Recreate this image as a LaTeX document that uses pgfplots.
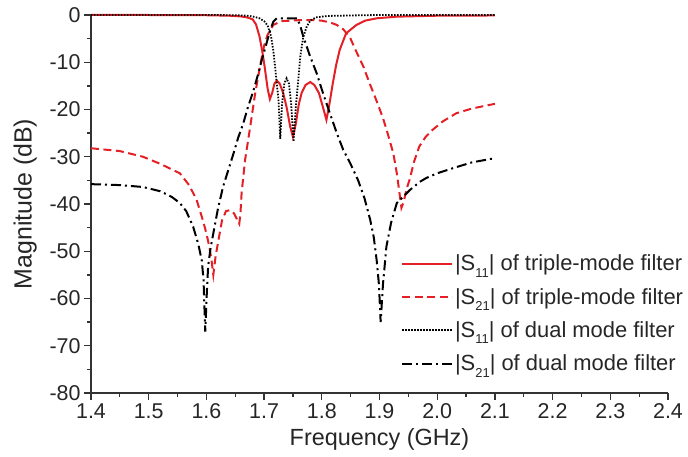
\documentclass[border=0pt]{standalone}
\usepackage{fontspec}
\setmainfont{Liberation Sans}
\usepackage{pgfplots}
\pgfplotsset{compat=1.18}
\definecolor{sred}{RGB}{228,32,38}
\newcommand\sub[1]{\raisebox{-0.55ex}{\fontsize{13}{13}\selectfont #1}}
\begin{document}
\begin{tikzpicture}
\begin{axis}[
    width=577bp, height=378bp, scale only axis,
    xmin=1.4, xmax=2.4, ymin=-80, ymax=0,
    axis x line*=bottom, axis y line*=left,
    axis line style={black!80, line width=1.4bp},
    xtick={1.4,1.5,...,2.41}, ytick={-80,-70,...,0},
    minor x tick num=1, minor y tick num=1,
    tick align=outside, tick style={black!80, line width=1.3bp},
    major tick length=7bp, minor tick length=4bp,
    /pgf/number format/assume math mode=true,
    xticklabel style={/pgf/number format/.cd, fixed, fixed zerofill, precision=1},
    tick label style={font=\fontsize{21.5}{24}\selectfont, text=black!85},
    xlabel={Frequency (GHz)}, ylabel={Magnitude (dB)},
    xlabel style={font=\fontsize{23.5}{26}\selectfont, text=black!85, yshift=-3bp},
    ylabel style={font=\fontsize{25}{28}\selectfont, text=black!85, yshift=6bp},
    clip=false,
    legend cell align=left,
    legend image code/.code={\draw[#1] (0bp,0bp) -- (50bp,0bp);},
    legend style={draw=none, fill=none, inner sep=0pt, row sep=12bp,
        font=\fontsize{22}{24}\selectfont, text=black!85,
        at={(axis cs:1.937,-50.3)}, anchor=north west},
]
\coordinate (bl) at (rel axis cs:0,0);
\coordinate (tr) at (rel axis cs:1,1);
% |S11| triple-mode
\addplot[sred, line width=2bp] coordinates {
(1.40,0) (1.50,0) (1.60,-0.05) (1.64,-0.15) (1.66,-0.3) (1.67,-0.5) (1.68,-0.9)
(1.686,-2) (1.692,-4.5) (1.697,-7.8) (1.701,-11) (1.706,-15.5) (1.710,-17.8)
(1.714,-16.5) (1.718,-14.5) (1.722,-13.9) (1.727,-14.5) (1.733,-16.5) (1.739,-19.5)
(1.745,-23.5) (1.750,-25.8) (1.755,-23) (1.760,-19) (1.765,-16.5) (1.772,-14.8)
(1.780,-14.2) (1.787,-14.8) (1.795,-16.5) (1.802,-19.5) (1.808,-22.2) (1.813,-19)
(1.819,-14.5) (1.825,-10.5) (1.831,-7.4) (1.842,-3.9) (1.860,-2.1) (1.875,-1.2)
(1.895,-0.7) (1.93,-0.35) (2.0,-0.15) (2.1,-0.1)
};
% |S21| triple-mode
\addplot[sred, line width=2bp, dash pattern=on 8bp off 4.5bp] coordinates {
(1.40,-28.2) (1.45,-28.8) (1.49,-30) (1.52,-31.5) (1.554,-33.5) (1.57,-36)
(1.583,-39.1) (1.594,-43.5) (1.600,-46.2) (1.605,-49) (1.609,-52) (1.612,-55)
(1.616,-51) (1.621,-47.6) (1.627,-43.5) (1.634,-41.5) (1.641,-41.3) (1.648,-42)
(1.654,-43.5) (1.657,-44.2) (1.659,-42) (1.661,-37.7) (1.667,-30.7) (1.676,-23.6)
(1.684,-17) (1.693,-10.8) (1.700,-6.5) (1.706,-4.2) (1.716,-2.1) (1.73,-1.3)
(1.76,-1.1) (1.79,-1.1) (1.80,-1.2) (1.815,-1.6) (1.826,-2.1) (1.837,-3)
(1.849,-4.8) (1.860,-7.8) (1.872,-10.9) (1.883,-14.5) (1.895,-18.2) (1.906,-21.8)
(1.914,-25) (1.924,-29.3) (1.930,-33.5) (1.935,-38) (1.938,-40.8) (1.942,-39.5)
(1.947,-36.8) (1.952,-34.9) (1.960,-31) (1.969,-27.8) (1.98,-25.8) (1.992,-24.3)
(2.01,-22.5) (2.033,-20.8) (2.06,-19.8) (2.1,-18.8)
};
% |S11| dual-mode
\addplot[black, line width=1.8bp, dash pattern=on 1.5bp off 1.5bp] coordinates {
(1.40,0) (1.60,0) (1.65,-0.05) (1.67,-0.15) (1.68,-0.3) (1.692,-0.7) (1.70,-1.3)
(1.706,-2.2) (1.712,-4.5) (1.716,-7.5) (1.719,-10.9) (1.722,-14.5) (1.725,-18)
(1.728,-26.2) (1.731,-19) (1.735,-14.5) (1.739,-13.4) (1.743,-14.5) (1.747,-19)
(1.751,-26.8) (1.755,-19.5) (1.759,-14) (1.763,-8.5) (1.768,-4.6) (1.774,-2.4)
(1.780,-1.2) (1.79,-0.5) (1.81,-0.2) (1.85,-0.1) (1.9,0) (2.1,0)
};
% |S21| dual-mode
\addplot[black, line width=2bp, dash pattern=on 10bp off 4bp on 2bp off 4bp] coordinates {
(1.40,-35.8) (1.45,-36) (1.49,-36.4) (1.52,-37.3) (1.54,-38.5) (1.554,-39.8)
(1.565,-41.5) (1.577,-44.8) (1.586,-48.5) (1.592,-52) (1.595,-56) (1.598,-67)
(1.601,-58) (1.603,-53.2) (1.607,-49.5) (1.612,-46.2) (1.62,-41) (1.629,-36.3)
(1.638,-32.8) (1.647,-29.3) (1.655,-26) (1.664,-22.9) (1.672,-19.5) (1.681,-16.2)
(1.689,-12.8) (1.696,-9.5) (1.703,-6.5) (1.710,-3.5) (1.716,-1.4) (1.722,-0.7)
(1.757,-0.7) (1.762,-2) (1.768,-4.6) (1.779,-8.5) (1.791,-12.3) (1.802,-16.5)
(1.814,-20.8) (1.826,-25) (1.837,-28.5) (1.849,-31.3) (1.863,-35) (1.874,-38.8)
(1.884,-43.4) (1.890,-47) (1.895,-51.8) (1.899,-57) (1.902,-65) (1.906,-57)
(1.912,-49) (1.920,-44) (1.930,-39.8) (1.953,-37) (1.970,-35.3) (1.981,-34.5)
(2.0,-33.5) (2.033,-32.2) (2.06,-31.2) (2.1,-30.3)
};
\legend{{|S\sub{11}| of triple-mode filter},{|S\sub{21}| of triple-mode filter},
        {|S\sub{11}| of dual mode filter},{|S\sub{21}| of dual mode filter}}
\end{axis}
\pgfresetboundingbox
\path ([shift={(-91bp,-64bp)}]bl) rectangle ([shift={(20bp,15bp)}]tr);
\end{tikzpicture}
\end{document}
